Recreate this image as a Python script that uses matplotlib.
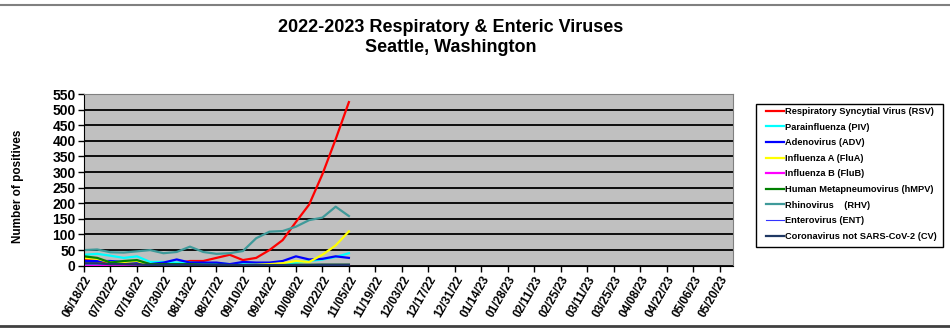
import matplotlib
matplotlib.use("Agg")
import matplotlib.pyplot as plt
from matplotlib.lines import Line2D
from matplotlib.patches import Rectangle
import numpy as np

plt.rcParams['font.family'] = ['Liberation Sans', 'DejaVu Sans']

# 50 weekly categories, labels on every other week
tick_labels = ["06/18/22", "07/02/22", "07/16/22", "07/30/22", "08/13/22", "08/27/22",
               "09/10/22", "09/24/22", "10/08/22", "10/22/22", "11/05/22", "11/19/22",
               "12/03/22", "12/17/22", "12/31/22", "01/14/23", "01/28/23", "02/11/23",
               "02/25/23", "03/11/23", "03/25/23", "04/08/23", "04/22/23", "05/06/23",
               "05/20/23"]
n_weeks = 50

# weekly data, 06/18/22 .. 11/05/22 (21 weeks)
rsv  = [20, 15, 8, 8, 10, 3, 4, 8, 15, 15, 25, 35, 18, 25, 50, 82, 140, 196, 293, 405, 524]
piv  = [35, 38, 32, 25, 30, 12, 12, 10, 10, 8, 8, 5, 5, 5, 5, 5, 10, 15, 20, 28, 40]
adv  = [15, 15, 15, 12, 10, 5, 10, 20, 10, 10, 10, 5, 12, 10, 10, 15, 30, 20, 22, 30, 25]
flua = [25, 22, 10, 12, 15, 2, 2, 2, 2, 2, 2, 2, 2, 3, 5, 8, 15, 12, 35, 65, 110]
flub = [0, 0, 0, 0, 0, 0, 0, 0, 0, 0, 0, 0, 0, 0, 0, 0, 0, 0, 0, 0, 0]
hmpv = [30, 25, 10, 15, 18, 5, 5, 5, 5, 3, 3, 2, 2, 2, 2, 2, 3, 3, 3, 3, 3]
rhv  = [50, 52, 43, 42, 46, 50, 40, 44, 61, 44, 38, 40, 47, 88, 109, 111, 125, 146, 154, 189, 159]
ent  = [5, 5, 4, 4, 3, 2, 2, 2, 2, 2, 1, 1, 1, 1, 1, 1, 1, 1, 1, 1, 1]
cv   = [8, 8, 5, 5, 4, 3, 3, 3, 3, 2, 2, 2, 2, 2, 2, 2, 2, 2, 3, 3, 3]

series = [
    ("Respiratory Syncytial Virus (RSV)", rsv, "#FF0000", 1.6),
    ("Parainfluenza (PIV)", piv, "#00FFFF", 1.6),
    ("Adenovirus (ADV)", adv, "#0000FF", 1.6),
    ("Influenza A (FluA)", flua, "#FFFF00", 1.6),
    ("Influenza B (FluB)", flub, "#FF00FF", 1.6),
    ("Human Metapneumovirus (hMPV)", hmpv, "#008000", 1.6),
    ("Rhinovirus    (RHV)", rhv, "#3F9A9A", 1.6),
    ("Enterovirus (ENT)", ent, "#3333FF", 0.8),
    ("Coronavirus not SARS-CoV-2 (CV)", cv, "#1F3864", 1.6),
]

W, H = 950, 331
fig = plt.figure(figsize=(9.5, 3.31), dpi=100)
ax = fig.add_axes([84 / W, 1 - 265.7 / H, (733 - 84) / W, (265.7 - 94) / H])
ax.set_facecolor("#C0C0C0")

x = np.arange(len(rsv))
for name, vals, col, lw in series:
    ax.plot(x, vals, color=col, lw=lw, label=name, solid_joinstyle="round")

ax.set_xlim(0, n_weeks - 1)
ax.set_ylim(0, 550)
ax.set_yticks(np.arange(0, 551, 50))
ax.yaxis.grid(True, color="#000000", lw=1.3)
ax.set_axisbelow(True)
ax.set_xticks(np.arange(0, n_weeks, 2))
ax.set_xticklabels(tick_labels, rotation=60, ha="right", rotation_mode="anchor",
                   fontsize=8.5, fontweight="bold")
for lab in ax.get_yticklabels():
    lab.set_fontsize(10)
    lab.set_fontweight("bold")
ax.tick_params(axis="both", direction="out", length=4, width=1, color="#000000", pad=2)
for s in ["top", "right"]:
    ax.spines[s].set_color("#808080")
for s in ["left", "bottom"]:
    ax.spines[s].set_color("#000000")

fig.text(18 / W, 1 - 186 / H, "Number of positives", rotation=90, ha="center",
         va="center", fontsize=8.5, fontweight="bold")

fig.text(451 / W, 1 - 27 / H, "2022-2023 Respiratory & Enteric Viruses",
         ha="center", va="center", fontsize=13, fontweight="bold")
fig.text(451 / W, 1 - 47 / H, "Seattle, Washington",
         ha="center", va="center", fontsize=13, fontweight="bold")

# legend box frame
fig.add_artist(Rectangle((756 / W, 1 - 247 / H), (943 - 756) / W, (247 - 104) / H,
                         transform=fig.transFigure, facecolor="white",
                         edgecolor="#000000", lw=1.0, zorder=1))
leg = fig.legend(loc="upper left", bbox_to_anchor=(766 / W, 1 - 107 / H),
                 bbox_transform=fig.transFigure, fontsize=6.7, frameon=False,
                 handlelength=1.95, handletextpad=0.05, labelspacing=0.71,
                 borderpad=0, borderaxespad=0)
leg.set_zorder(2)
for t in leg.get_texts():
    t.set_fontweight("bold")

fig.add_artist(Line2D([0, 1], [1 - 5 / H, 1 - 5 / H], transform=fig.transFigure,
                      color="#808080", lw=1.5))
fig.add_artist(Line2D([0, 1], [1 - 326 / H, 1 - 326 / H], transform=fig.transFigure,
                      color="#404040", lw=2))

fig.savefig("out.png", dpi=100)
